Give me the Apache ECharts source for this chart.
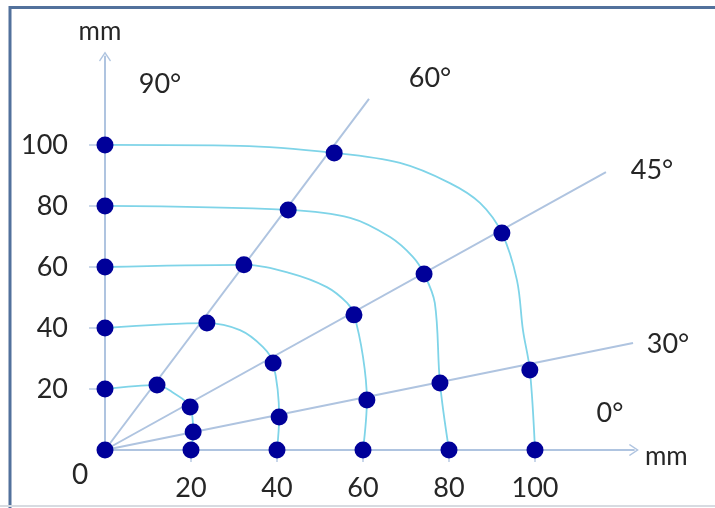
<!DOCTYPE html>
<html>
<head>
<meta charset="utf-8">
<style>
  html, body { margin: 0; padding: 0; background: #ffffff; }
  #chart { width: 715px; height: 508px; }
</style>
<script src="https://cdn.jsdelivr.net/npm/echarts@6/dist/echarts.min.js"></script>
</head>
<body>
<div id="chart"></div>
<script>
// Radii of the measuring arcs (mm)
const radii = [20, 40, 60, 80, 100];
const tickValues = [20, 40, 60, 80, 100];

// Measured points on each angled ray, one per radius (x mm, y mm)
const ray60Pts = [[12.1, 21.3], [23.7, 41.6], [32.3, 60.7], [42.6, 78.7], [53.3, 97.4]];
const ray45Pts = [[19.8, 14.1], [39.1, 28.5], [57.9, 44.3], [74.2, 57.7], [92.3, 71.1]];
const ray30Pts = [[20.5, 5.9], [40.5, 10.8], [60.9, 16.4], [77.9, 22.0], [98.8, 26.2]];

// Far ends of the reference rays
const rayEnds = { '60': [61.4, 115.1], '45': [116.5, 91.1], '30': [122.8, 35.1] };

// Extra points traced along each arc
const arcFlat  = [[], [], [], [], [[31.4, 99.7]]];
const arcUpper = [
  [[15.6, 19.0]],
  [[31.4, 39.3], [36.7, 33.8]],
  [[43.0, 58.0], [51.6, 53.4], [56.3, 48.2]],
  [[57.0, 76.1], [66.3, 69.8], [71.6, 63.3]],
  [[68.6, 94.1], [80.2, 87.5], [87.2, 81.0]]
];
const arcLower = [[], [], [[60.0, 30.5]], [[76.7, 48.2]], [[95.8, 55.7], [97.2, 39.3]]];

const axisColor = '#afc4e0';
const arcColor = '#7fd4e8';
const dotColor = '#000099';
const textColor = '#262626';
const font = 'Lato, "Open Sans", sans-serif';

const chart = echarts.init(document.getElementById('chart'), null, { renderer: 'canvas' });

const series = [];

// Angled rays from the origin
Object.keys(rayEnds).forEach(function (k) {
  series.push({
    type: 'line',
    data: [[0, 0], rayEnds[k]],
    symbol: 'none',
    lineStyle: { color: axisColor, width: 2 },
    z: 1,
    silent: true
  });
});

// Arcs of constant radius
radii.forEach(function (r, i) {
  const pts = [[0, r]]
    .concat(arcFlat[i])
    .concat([ray60Pts[i]])
    .concat(arcUpper[i])
    .concat([ray45Pts[i]])
    .concat(arcLower[i])
    .concat([ray30Pts[i]])
    .concat([[r, 0]]);
  series.push({
    type: 'line',
    data: pts,
    smooth: 0.35,
    symbol: 'none',
    lineStyle: { color: arcColor, width: 1.8 },
    z: 2,
    silent: true
  });
});

// Measurement points
const dots = [[0, 0]]
  .concat(radii.map(function (r) { return [0, r]; }))
  .concat(radii.map(function (r) { return [r, 0]; }))
  .concat(ray60Pts, ray45Pts, ray30Pts);
series.push({
  type: 'scatter',
  data: dots,
  symbol: 'circle',
  symbolSize: 17,
  itemStyle: { color: dotColor, opacity: 1 },
  z: 3,
  silent: true
});

const chevron = 'path://M0,0 L6,9 L5,10 L0,2.5 L-5,10 L-6,9 Z';

chart.setOption({
  animation: false,
  backgroundColor: '#ffffff',
  grid: { left: 105, top: 56.5, width: 528.9, height: 393.5 },
  xAxis: {
    type: 'value',
    min: 0,
    max: 123,
    name: 'mm',
    nameLocation: 'end',
    nameGap: 11,
    nameTextStyle: { color: textColor, fontFamily: font, fontSize: 26, verticalAlign: 'top', padding: [-6, 0, 0, 0] },
    splitLine: { show: false },
    axisLine: {
      show: true, onZero: false,
      symbol: ['none', chevron], symbolSize: [12, 10],
      lineStyle: { color: axisColor, width: 2 }
    },
    axisTick: { show: true, customValues: tickValues, length: 12, lineStyle: { color: '#c9d7ea', width: 2 } },
    axisLabel: { customValues: tickValues, margin: 25, color: textColor, fontFamily: font, fontSize: 27 }
  },
  yAxis: {
    type: 'value',
    min: 0,
    max: 129,
    name: 'mm',
    nameLocation: 'end',
    nameGap: 12,
    nameTextStyle: { color: textColor, fontFamily: font, fontSize: 26, padding: [0, 10, 0, 0] },
    splitLine: { show: false },
    axisLine: {
      show: true, onZero: false,
      symbol: ['none', chevron], symbolSize: [12, 10],
      lineStyle: { color: axisColor, width: 2 }
    },
    axisTick: { show: true, customValues: tickValues, length: 16, lineStyle: { color: '#c9d7ea', width: 2 } },
    axisLabel: { customValues: tickValues, margin: 37, color: textColor, fontFamily: font, fontSize: 27 }
  },
  graphic: [
    { type: 'rect', silent: true, z: 10,
      shape: { x: 10, y: 7.5, width: 800, height: 600 },
      style: { fill: 'none', stroke: '#52719c', lineWidth: 3 } },
    { type: 'line', silent: true, z: 10,
      shape: { x1: 0, y1: 506, x2: 715, y2: 506 },
      style: { stroke: '#d7dbe1', lineWidth: 2 } },
    { type: 'text', x: 80, y: 475, silent: true,
      style: { text: '0', fill: textColor, font: '28px ' + font, align: 'center', verticalAlign: 'middle' } },
    { type: 'text', x: 160, y: 84, silent: true,
      style: { text: '90°', fill: textColor, font: '27px ' + font, align: 'center', verticalAlign: 'middle' } },
    { type: 'text', x: 430, y: 78, silent: true,
      style: { text: '60°', fill: textColor, font: '27px ' + font, align: 'center', verticalAlign: 'middle' } },
    { type: 'text', x: 652, y: 170, silent: true,
      style: { text: '45°', fill: textColor, font: '27px ' + font, align: 'center', verticalAlign: 'middle' } },
    { type: 'text', x: 668, y: 344, silent: true,
      style: { text: '30°', fill: textColor, font: '27px ' + font, align: 'center', verticalAlign: 'middle' } },
    { type: 'text', x: 610, y: 413, silent: true,
      style: { text: '0°', fill: textColor, font: '27px ' + font, align: 'center', verticalAlign: 'middle' } }
  ],
  series: series
});
</script>
</body>
</html>
